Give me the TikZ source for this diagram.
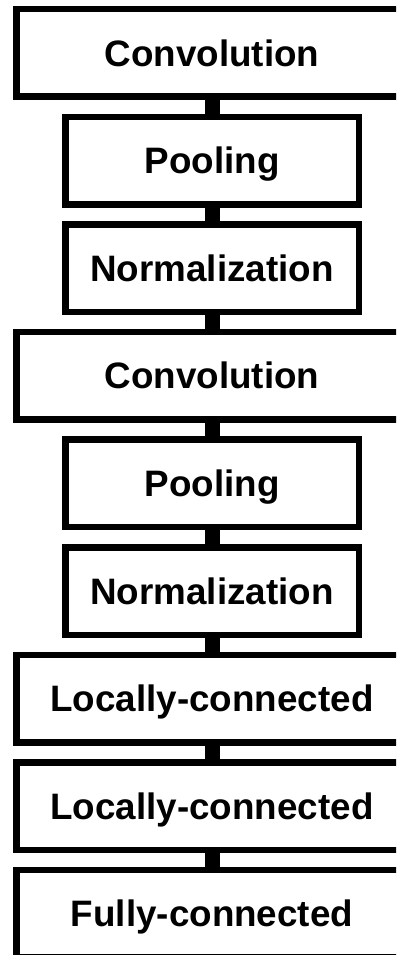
\documentclass[tikz,border=0pt]{standalone}
\usepackage{fontspec}
\setmainfont{Liberation Sans}
\usetikzlibrary{positioning}

\begin{document}
\begin{tikzpicture}[x=1pt, y=1pt, node distance=13.6pt,
    layer/.style={draw, line width=6.5pt, fill=white, minimum height=87.5pt, inner xsep=0pt, inner ysep=0pt,
      text height=26.3pt, text depth=0pt, font=\fontsize{36.8}{44}\selectfont\bfseries},
    wide/.style={layer, minimum width=391.5pt},
    narrow/.style={layer, minimum width=293.5pt},
    link/.style={line width=15pt}]
        % Fix the canvas and cut off what runs past it
        \useasboundingbox (0,0) rectangle (396,-955);
        \clip (0,0) rectangle (396,-955);

        % Draw the layers from top to bottom
        \node[wide, anchor=north] (conv1) at (212,-6) {Convolution};
        \node[narrow, below=of conv1] (pool1) {Pooling};
        \node[narrow, below=of pool1] (norm1) {Normalization};
        \node[wide, below=of norm1] (conv2) {Convolution};
        \node[narrow, below=of conv2] (pool2) {Pooling};
        \node[narrow, below=of pool2] (norm2) {Normalization};
        \node[wide, below=of norm2] (local1) {Locally-connected};
        \node[wide, below=of local1] (local2) {Locally-connected};
        \node[wide, below=of local2] (full) {Fully-connected};

        % Join each layer to the next one
        \foreach \a/\b in {conv1/pool1, pool1/norm1, norm1/conv2, conv2/pool2, pool2/norm2, norm2/local1, local1/local2, local2/full}
        {
          \draw[link] (\a) -- (\b);
        }
      \end{tikzpicture}
\end{document}
